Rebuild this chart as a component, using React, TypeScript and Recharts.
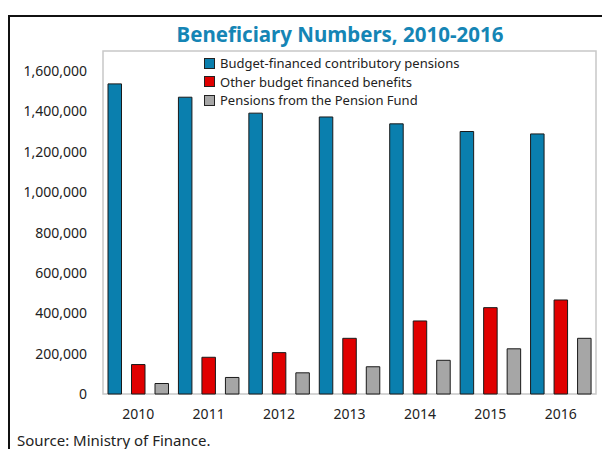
import React from 'react';
import {
  BarChart,
  Bar,
  XAxis,
  YAxis,
  Legend,
  ReferenceArea,
} from 'recharts';

const years = ['2010', '2011', '2012', '2013', '2014', '2015', '2016'];
const contributory = [1537000, 1471000, 1392000, 1373000, 1339000, 1301000, 1289000];
const otherBenefits = [146000, 182000, 205000, 276000, 362000, 428000, 466000];
const pensionFund = [52000, 82000, 105000, 135000, 167000, 224000, 276000];
const yTicks = [0, 200000, 400000, 600000, 800000, 1000000, 1200000, 1400000, 1600000];

const seriesNames = [
  'Budget-financed contributory pensions',
  'Other budget financed benefits',
  'Pensions from the Pension Fund',
];

const FONT = '"Noto Sans", "Open Sans", sans-serif';

const data = years.map((year, i) => ({
  year,
  contributory: contributory[i],
  other: otherBenefits[i],
  fund: pensionFund[i],
}));

// legend with outlined squares, like the source
function LegendBox(props: any) {
  const items = props.payload || [];
  return (
    <div style={{ fontFamily: FONT, fontSize: 13, color: '#222' }}>
      {items.map((item: any) => (
        <div
          key={item.value}
          style={{ display: 'flex', alignItems: 'center', height: 18.5 }}
        >
          <span
            style={{
              display: 'inline-block',
              width: 9,
              height: 9,
              background: item.color,
              border: '1px solid #222',
              marginRight: 5,
            }}
          />
          <span>{item.value}</span>
        </div>
      ))}
    </div>
  );
}

export default function App() {
  return (
    <div
      style={{
        position: 'fixed',
        left: 0,
        top: 0,
        width: 602,
        height: 449,
        background: '#fff',
        overflow: 'hidden',
        fontFamily: FONT,
      }}
    >
      {/* outer frame, only top and left edges show */}
      <div
        style={{
          position: 'absolute',
          left: 8,
          top: 15,
          width: 600,
          height: 440,
          borderTop: '2px solid #111',
          borderLeft: '2px solid #111',
        }}
      />
      <div
        style={{
          position: 'absolute',
          left: 60,
          width: 560,
          top: 20,
          textAlign: 'center',
          fontSize: 20.5,
          fontWeight: 700,
          color: '#1585B5',
        }}
      >
        Beneficiary Numbers, 2010-2016
      </div>
      <BarChart
        width={602}
        height={449}
        data={data}
        margin={{ top: 51, right: 6, left: 0, bottom: 24 }}
        barGap={10}
        barSize={13.5}
        style={{ position: 'absolute', left: 0, top: 0 }}
      >
        <ReferenceArea
          y1={0}
          y2={1700000}
          fill="none"
          stroke="#c8c8c8"
          strokeWidth={1.5}
        />
        <XAxis
          dataKey="year"
          axisLine={false}
          tickLine={false}
          interval={0}
          tickSize={6}
          tickMargin={9}
          height={31}
          tick={{ fill: '#222', fontSize: 14, fontFamily: FONT }}
        />
        <YAxis
          domain={[0, 1700000]}
          ticks={yTicks}
          width={103}
          axisLine={false}
          tickLine={false}
          tickSize={6}
          tickMargin={10}
          tickFormatter={(v: number) => v.toLocaleString('en-US')}
          tick={{ fill: '#222', fontSize: 14, fontFamily: FONT }}
        />
        <Legend
          layout="vertical"
          verticalAlign="middle"
          align="center"
          content={<LegendBox />}
          wrapperStyle={{ left: 204, top: 54, width: 300 }}
        />
        <Bar
          dataKey="contributory"
          name={seriesNames[0]}
          fill="#0A7FAE"
          stroke="#1a1a1a"
          strokeWidth={1}
          isAnimationActive={false}
        />
        <Bar
          dataKey="other"
          name={seriesNames[1]}
          fill="#E00000"
          stroke="#1a1a1a"
          strokeWidth={1}
          isAnimationActive={false}
        />
        <Bar
          dataKey="fund"
          name={seriesNames[2]}
          fill="#A6A6A6"
          stroke="#1a1a1a"
          strokeWidth={1}
          isAnimationActive={false}
        />
      </BarChart>
      <div
        style={{
          position: 'absolute',
          left: 17,
          top: 430,
          fontSize: 15,
          color: '#222',
          whiteSpace: 'nowrap',
        }}
      >
        Source: Ministry of Finance.
      </div>
    </div>
  );
}
